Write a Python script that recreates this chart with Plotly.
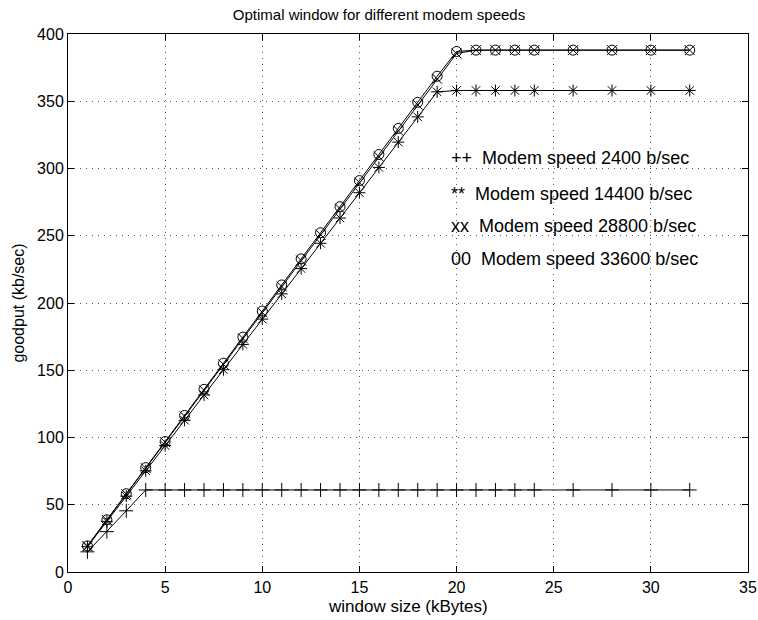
import plotly.graph_objects as go

# window size (kBytes)
window = [1, 2, 3, 4, 5, 6, 7, 8, 9, 10, 11, 12, 13, 14, 15, 16, 17, 18, 19, 20,
          21, 22, 23, 24, 26, 28, 30, 32]

# goodput (kb/sec) for each modem speed
gp_2400 = [15, 30, 45.5, 61, 61, 61, 61, 61, 61, 61, 61, 61, 61, 61, 61, 61, 61, 61, 61, 61,
           61, 61, 61, 61, 61, 61, 61, 61]
gp_14400 = [18.8, 37.6, 56.4, 75.2, 94, 112.8, 131.6, 150.4, 169.2, 188, 206.8, 225.6, 244.4,
            263.2, 282, 300.8, 319.6, 338.4, 357, 358, 358, 358, 358, 358, 358, 358, 358, 358]
gp_28800 = [19.3, 38.6, 57.9, 77.2, 96.5, 115.8, 135.1, 154.4, 173.7, 193, 212.3, 231.6, 250.9,
            270.2, 289.5, 308.8, 328.1, 347.4, 366.7, 385.5, 388, 388, 388, 388, 388, 388, 388, 388]
gp_33600 = [19.4, 38.8, 58.2, 77.6, 97, 116.4, 135.8, 155.2, 174.6, 194, 213.4, 232.8, 252.2,
            271.6, 291, 310.4, 329.8, 349.2, 368.6, 387, 388, 388, 388, 388, 388, 388, 388, 388]

labels = ["++  Modem speed 2400 b/sec",
          "**  Modem speed 14400 b/sec",
          "xx  Modem speed 28800 b/sec",
          "00  Modem speed 33600 b/sec"]
label_y = [308, 281, 257, 233]

series = [
    (gp_2400, "cross-thin-open"),
    (gp_14400, "asterisk-open"),
    (gp_28800, "x-thin-open"),
    (gp_33600, "circle-open"),
]

fig = go.Figure()
for ys, sym in series:
    fig.add_trace(go.Scatter(
        x=window, y=ys, mode="lines+markers",
        line=dict(color="black", width=1),
        marker=dict(symbol=sym, size=10, color="black", line=dict(color="black", width=1)),
    ))

for txt, yy in zip(labels, label_y):
    fig.add_annotation(x=19.6, y=yy, text=txt, showarrow=False, xanchor="left",
                       yanchor="middle", font=dict(size=18, color="black"))

# x axis title placed as an annotation below the tick labels
fig.add_annotation(x=0.5, y=-0.064, xref="paper", yref="paper", text="window size (kBytes)",
                   showarrow=False, xanchor="center", yanchor="middle", font=dict(size=17))

axis_style = dict(
    showline=True, linecolor="black", linewidth=1, mirror="ticks",
    ticks="inside", ticklen=6, tickcolor="black",
    showgrid=True, gridcolor="#555", gridwidth=1, griddash="1px,5px",
    zeroline=False, tickfont=dict(size=16, color="black"), automargin=False,
    ticklabeloverflow="allow",
)

fig.update_xaxes(range=[0, 35], dtick=5, ticklabelstandoff=1, **axis_style)
fig.update_yaxes(range=[0, 400], dtick=50, title=dict(text="goodput (kb/sec)", standoff=8,
                 font=dict(size=16)), **axis_style)

fig.update_layout(
    width=758, height=620,
    margin=dict(l=68, r=10, t=34, b=48),
    paper_bgcolor="white", plot_bgcolor="white",
    font=dict(family="Liberation Sans, Arial, sans-serif", color="black"),
    showlegend=False,
    title=dict(text="Optimal window for different modem speeds", x=0.5, xanchor="center",
               y=0.977, yref="container", yanchor="middle", font=dict(size=15)),
)

# drop the default page margin so the figure sits at the window's top-left corner
fig.write_html("out.html", config={"displayModeBar": False},
               post_script="document.body.style.margin='0';")
